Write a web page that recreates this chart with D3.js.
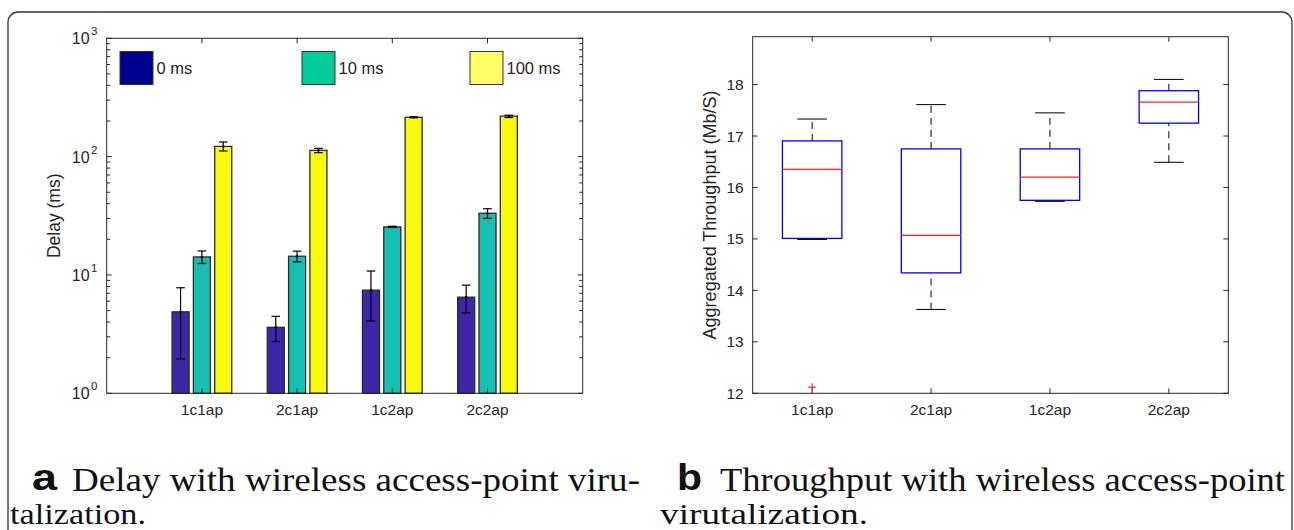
<!DOCTYPE html>
<html>
<head>
<meta charset="utf-8">
<script src="https://cdn.jsdelivr.net/npm/d3@7"></script>
<style>
  body { margin: 0; background: #fff; }
  svg { display: block; }
</style>
</head>
<body>
<svg width="1294" height="530"></svg>
<script>
// ---- data: panel a (delay, log scale) ----
var delayCats = ['1c1ap', '2c1ap', '1c2ap', '2c2ap'];
var delaySeries = ['0 ms', '10 ms', '100 ms'];
var delayMean = [[4.88, 3.61, 7.44, 6.49], [14.2, 14.4, 25.5, 33.2], [122, 113, 215, 220]];
var delayLow  = [[1.95, 2.74, 4.09, 4.78], [12.5, 12.9, 25.2, 30.1], [111.6, 108, 213, 214]];
var delayHigh = [[7.8, 4.47, 10.8, 8.2], [15.96, 15.9, 25.8, 36.3], [133, 117.4, 217, 224]];
var delayTicks = [1, 10, 100, 1000];

// ---- data: panel b (throughput boxplots) ----
var tpCats = ['1c1ap', '2c1ap', '1c2ap', '2c2ap'];
var tpWhiskLow  = [14.99, 13.63, 15.73, 16.49];
var tpQ1        = [15.01, 14.34, 15.75, 17.25];
var tpMedian    = [16.35, 15.07, 16.2, 17.66];
var tpQ3        = [16.905, 16.75, 16.75, 17.88];
var tpWhiskHigh = [17.33, 17.61, 17.45, 18.1];
var tpOutliers  = [[12.12], [], [], []];
var tpTicks = [12, 13, 14, 15, 16, 17, 18];

var barColors = ['#3e26a8', '#17bfb3', '#f8fa0d'];
var legendColors = ['#00008f', '#00cc99', '#ffff66'];

var SANS = '"Liberation Sans", Arial, Helvetica, sans-serif';
var SERIF = '"Liberation Serif", "Times New Roman", Times, serif';
var axisColor = '#262626';

var svg = d3.select('svg');

function label(g, x, y, txt, size, anchor) {
    return g.append('text')
        .attr('x', x).attr('y', y)
        .attr('font-family', SANS)
        .attr('font-size', size)
        .attr('fill', axisColor)
        .attr('text-anchor', anchor || 'start')
        .text(txt);
}

// outer rounded frame
svg.append('rect')
    .attr('x', 8).attr('y', 12)
    .attr('width', 1284).attr('height', 600)
    .attr('rx', 10).attr('ry', 10)
    .attr('fill', 'none')
    .attr('stroke', '#333')
    .attr('stroke-width', 1.3);

// ================= panel a =================
var ax = {l: 106.7, r: 582.7, t: 38.3, b: 393.3};
var gA = svg.append('g');

var xA = d3.scaleLinear().domain([0, 5]).range([ax.l, ax.r]);
var yA = d3.scaleLog().domain([1, 1000]).range([ax.b, ax.t]);

var barOff = 0.224, barW = 0.179;

delaySeries.forEach(function(s, si) {
    var off = (si - 1) * barOff;
    gA.selectAll('.bar' + si)
        .data(delayMean[si])
        .enter().append('rect')
        .attr('x', function(d, i) { return xA(i + 1 + off - barW / 2); })
        .attr('width', xA(barW) - xA(0))
        .attr('y', function(d) { return yA(d); })
        .attr('height', function(d) { return yA(1) - yA(d); })
        .attr('fill', barColors[si])
        .attr('stroke', '#2a2a2a')
        .attr('stroke-width', 1.3);

    // error bars
    delayMean[si].forEach(function(d, i) {
        var cx = xA(i + 1 + off);
        var lo = yA(delayLow[si][i]), hi = yA(delayHigh[si][i]);
        gA.append('line').attr('x1', cx).attr('x2', cx).attr('y1', lo).attr('y2', hi)
            .attr('stroke', '#000').attr('stroke-width', 1.2);
        [lo, hi].forEach(function(y) {
            gA.append('line').attr('x1', cx - 4.3).attr('x2', cx + 4.3).attr('y1', y).attr('y2', y)
                .attr('stroke', '#000').attr('stroke-width', 1.2);
        });
        gA.append('circle').attr('cx', cx).attr('cy', yA(d)).attr('r', 1.2).attr('fill', '#000');
    });
});

// axes box with inward ticks
gA.append('rect')
    .attr('x', ax.l).attr('y', ax.t)
    .attr('width', ax.r - ax.l).attr('height', ax.b - ax.t)
    .attr('fill', 'none').attr('stroke', axisColor).attr('stroke-width', 1);

// y ticks (major + minor), both sides
var minorA = [];
[1, 10, 100].forEach(function(dec) {
    for (var k = 2; k <= 9; k++) minorA.push(dec * k);
});
delayTicks.concat(minorA).forEach(function(v) {
    var y = yA(v);
    var len = delayTicks.indexOf(v) >= 0 ? 5 : 3.5;
    gA.append('line').attr('x1', ax.l).attr('x2', ax.l + len).attr('y1', y).attr('y2', y)
        .attr('stroke', axisColor).attr('stroke-width', 1);
    gA.append('line').attr('x1', ax.r).attr('x2', ax.r - len).attr('y1', y).attr('y2', y)
        .attr('stroke', axisColor).attr('stroke-width', 1);
});
// x ticks top and bottom
delayCats.forEach(function(c, i) {
    var x = xA(i + 1);
    gA.append('line').attr('x1', x).attr('x2', x).attr('y1', ax.b).attr('y2', ax.b - 5)
        .attr('stroke', axisColor).attr('stroke-width', 1);
    gA.append('line').attr('x1', x).attr('x2', x).attr('y1', ax.t).attr('y2', ax.t + 5)
        .attr('stroke', axisColor).attr('stroke-width', 1);
    label(gA, x, ax.b + 22, c, 15.5, 'middle');
});
// y tick labels 10^n
delayTicks.forEach(function(v) {
    var t = label(gA, 97.5, yA(v) + 6, '', 16, 'end');
    t.append('tspan').text('10');
    t.append('tspan').attr('dy', -9).attr('dx', 1.5).attr('font-size', 11.5).text(Math.round(Math.log10(v)));
});
label(gA, 0, 0, 'Delay (ms)', 17.5, 'middle')
    .attr('transform', 'translate(60,' + ((ax.t + ax.b) / 2) + ') rotate(-90)');

// legend
var legendX = [120, 302, 470];
delaySeries.forEach(function(s, si) {
    gA.append('rect').attr('x', legendX[si]).attr('y', 51.5)
        .attr('width', 33).attr('height', 33)
        .attr('fill', legendColors[si]).attr('stroke', '#333').attr('stroke-width', 1);
    label(gA, legendX[si] + 36.5, 74, s, 16.5);
});

// ================= panel b =================
var bx = {l: 752.7, r: 1228.3, t: 36.7, b: 393.3};
var gB = svg.append('g');
var xB = d3.scaleLinear().domain([0.5, 4.5]).range([bx.l, bx.r]);
var yB = d3.scaleLinear().domain([12, 18.93]).range([bx.b, bx.t]);

gB.append('rect')
    .attr('x', bx.l).attr('y', bx.t)
    .attr('width', bx.r - bx.l).attr('height', bx.b - bx.t)
    .attr('fill', 'none').attr('stroke', axisColor).attr('stroke-width', 1);

tpTicks.forEach(function(v) {
    var y = yB(v);
    gB.append('line').attr('x1', bx.l).attr('x2', bx.l + 5).attr('y1', y).attr('y2', y)
        .attr('stroke', axisColor);
    gB.append('line').attr('x1', bx.r).attr('x2', bx.r - 5).attr('y1', y).attr('y2', y)
        .attr('stroke', axisColor);
    label(gB, bx.l - 9, y + 5.5, v, 15.5, 'end');
});
tpCats.forEach(function(c, i) {
    var x = xB(i + 1);
    gB.append('line').attr('x1', x).attr('x2', x).attr('y1', bx.b).attr('y2', bx.b - 5)
        .attr('stroke', axisColor);
    gB.append('line').attr('x1', x).attr('x2', x).attr('y1', bx.t).attr('y2', bx.t + 5)
        .attr('stroke', axisColor);
    label(gB, x, bx.b + 22, c, 15.5, 'middle');
});
label(gB, 0, 0, 'Aggregated Throughput (Mb/S)', 18, 'middle')
    .attr('transform', 'translate(716,' + ((bx.t + bx.b) / 2) + ') rotate(-90)');

// boxes
tpCats.forEach(function(c, i) {
    var cx = xB(i + 1);
    var hw = (xB(0.25) - xB(0)), cw = (xB(0.125) - xB(0));
    // whiskers
    [[tpQ3[i], tpWhiskHigh[i]], [tpWhiskLow[i], tpQ1[i]]].forEach(function(p) {
        gB.append('line').attr('x1', cx).attr('x2', cx).attr('y1', yB(p[0])).attr('y2', yB(p[1]))
            .attr('stroke', '#000').attr('stroke-width', 1).attr('stroke-dasharray', '7,5');
    });
    [tpWhiskHigh[i], tpWhiskLow[i]].forEach(function(v) {
        gB.append('line').attr('x1', cx - cw).attr('x2', cx + cw).attr('y1', yB(v)).attr('y2', yB(v))
            .attr('stroke', '#000').attr('stroke-width', 1);
    });
    gB.append('rect').attr('x', cx - hw).attr('y', yB(tpQ3[i]))
        .attr('width', 2 * hw).attr('height', yB(tpQ1[i]) - yB(tpQ3[i]))
        .attr('fill', 'none').attr('stroke', '#0000ff').attr('stroke-width', 1.3);
    gB.append('line').attr('x1', cx - hw).attr('x2', cx + hw)
        .attr('y1', yB(tpMedian[i])).attr('y2', yB(tpMedian[i]))
        .attr('stroke', '#ff2020').attr('stroke-width', 1.3);
    tpOutliers[i].forEach(function(v) {
        var y = yB(v);
        gB.append('line').attr('x1', cx - 4).attr('x2', cx + 4).attr('y1', y).attr('y2', y)
            .attr('stroke', '#ff0000').attr('stroke-width', 1);
        gB.append('line').attr('x1', cx).attr('x2', cx).attr('y1', y - 4).attr('y2', y + 4)
            .attr('stroke', '#ff0000').attr('stroke-width', 1);
    });
});

// ================= captions =================
function capLetter(x, txt) {
    svg.append('text').attr('x', x).attr('y', 490)
        .attr('font-family', SANS).attr('font-weight', 'bold')
        .attr('font-size', 36).attr('fill', '#111')
        .attr('textLength', 25).attr('lengthAdjust', 'spacingAndGlyphs')
        .text(txt);
}
function capText(x, y, size, len, txt) {
    svg.append('text').attr('x', x).attr('y', y)
        .attr('font-family', SERIF)
        .attr('font-size', size).attr('fill', '#111')
        .attr('textLength', len).attr('lengthAdjust', 'spacingAndGlyphs')
        .text(txt);
}
capLetter(32, 'a');
capText(72, 491, 33, 568, 'Delay with wireless access-point viru-');
capText(10, 523.5, 29, 136, 'talization.');
capLetter(677, 'b');
capText(720, 491, 33, 565, 'Throughput with wireless access-point');
capText(660, 523.5, 29, 208, 'virutalization.');
</script>
</body>
</html>
